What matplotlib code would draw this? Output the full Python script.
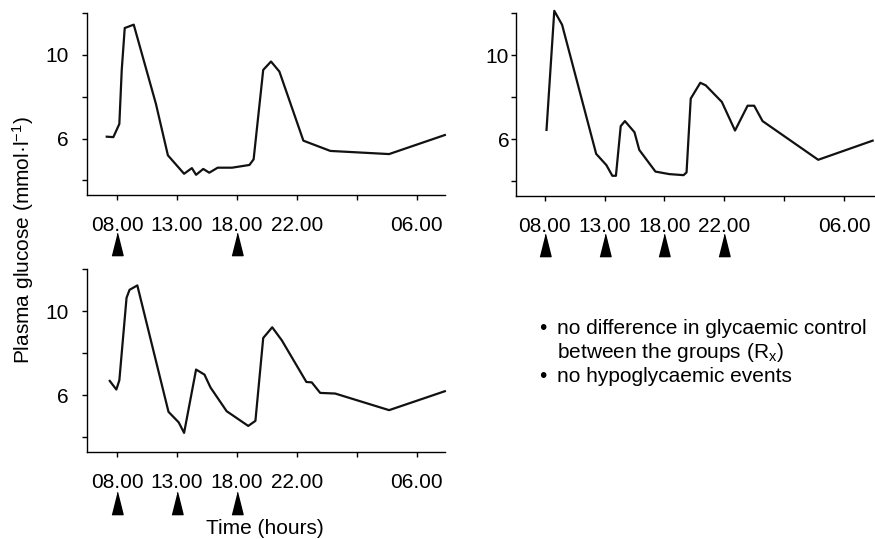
import matplotlib
matplotlib.use('Agg')
import matplotlib.pyplot as plt
import matplotlib.transforms as mtransforms

plt.rcParams['font.family'] = ['Liberation Sans', 'DejaVu Sans']
plt.rcParams['mathtext.fontset'] = 'custom'
plt.rcParams['mathtext.rm'] = 'Liberation Sans'
plt.rcParams['mathtext.it'] = 'Liberation Sans:italic'
plt.rcParams['font.size'] = 15

# x positions are in tick slots (0 = 08.00, 1 = 13.00, 2 = 18.00, 3 = 22.00, 5 = 06.00)
tick_labels = ['08.00', '13.00', '18.00', '22.00', '', '06.00']

# panel A (top left)
a_x = [-0.17, -0.06, 0.04, 0.08, 0.13, 0.28, 0.65, 0.85, 1.12, 1.25, 1.32, 1.44, 1.54,
       1.68, 1.92, 2.21, 2.28, 2.44, 2.57, 2.71, 3.11, 3.56, 4.54, 5.47]
a_y = [6.09, 6.07, 6.70, 9.28, 11.28, 11.44, 7.66, 5.20, 4.32, 4.59, 4.27, 4.55, 4.37,
       4.61, 4.61, 4.74, 5.01, 9.28, 9.68, 9.20, 5.90, 5.41, 5.26, 6.17]
a_meals = [0, 2]

# panel B (top right)
b_x = [0.03, 0.16, 0.29, 0.86, 1.03, 1.13, 1.19, 1.27, 1.34, 1.50, 1.58, 1.85, 2.08,
       2.32, 2.37, 2.44, 2.60, 2.69, 2.96, 3.18, 3.39, 3.50, 3.64, 4.57, 5.48]
b_y = [6.44, 12.10, 11.44, 5.30, 4.77, 4.26, 4.26, 6.62, 6.86, 6.33, 5.49, 4.46, 4.34,
       4.29, 4.42, 7.93, 8.68, 8.56, 7.77, 6.41, 7.59, 7.59, 6.86, 5.02, 5.93]
b_meals = [0, 1, 2, 3]

# panel C (bottom left)
c_x = [-0.12, -0.01, 0.04, 0.16, 0.21, 0.34, 0.86, 1.03, 1.12, 1.32, 1.46, 1.56, 1.83,
       2.19, 2.31, 2.44, 2.59, 2.75, 3.16, 3.25, 3.39, 3.64, 4.54, 5.47]
c_y = [6.68, 6.27, 6.71, 10.63, 11.01, 11.22, 5.21, 4.71, 4.21, 7.22, 6.98, 6.37, 5.24,
       4.54, 4.78, 8.72, 9.23, 8.61, 6.63, 6.61, 6.11, 6.08, 5.29, 6.19]
c_meals = [0, 1, 2]

notes = ['no difference in glycaemic control',
         'between the groups (R$_{\\mathrm{x}}$)',
         'no hypoglycaemic events']
bullets = [True, False, True]

fig = plt.figure(figsize=(8.75, 5.39), dpi=100)

# narrow black triangle marking a meal
tri = [(-0.25, -0.5), (0.25, -0.5), (0, 0.5)]


def panel(rect, xs, ys, meals, xlim, ypad, tri_y):
    ax = fig.add_axes(rect)
    ax.plot(xs, ys, color='#111111', lw=1.6, clip_on=False)
    ax.set_xlim(*xlim)
    ax.set_ylim(3.3, 12)
    ax.set_xticks(range(6))
    ax.set_xticklabels(tick_labels)
    ax.set_yticks([4, 6, 8, 10, 12])
    ax.set_yticklabels(['', '6', '', '10', ''])
    for s in ['top', 'right']:
        ax.spines[s].set_visible(False)
    for s in ['left', 'bottom']:
        ax.spines[s].set_linewidth(1.0)
    ax.tick_params(axis='x', length=3.6, width=1, pad=11.5, labelsize=15)
    ax.tick_params(axis='y', length=3.4, width=1, pad=ypad, labelsize=15)
    tr = mtransforms.blended_transform_factory(ax.transData, ax.transAxes)
    ax.plot(meals, [tri_y] * len(meals), ls='none', marker=tri, ms=16,
            color='black', transform=tr, clip_on=False)
    return ax


ax1 = panel([0.0994, 0.638, 0.409, 0.338], a_x, a_y, a_meals, (-0.5, 5.47), 9.5, -0.27)
ax2 = panel([0.5897, 0.6364, 0.409, 0.3396], b_x, b_y, b_meals, (-0.48, 5.5), 1.5, -0.27)
ax3 = panel([0.0994, 0.1614, 0.409, 0.3395], c_x, c_y, c_meals, (-0.5, 5.47), 9.5, -0.28)

fig.text(23 / 875, 1 - 240 / 539, 'Plasma glucose (mmol\u00b7l$^{-1}$)', rotation=90,
         ha='center', va='center', fontsize=15)
fig.text(265 / 875, 1 - 528 / 539, 'Time (hours)', ha='center', va='center', fontsize=15)

for i, (line, b) in enumerate(zip(notes, bullets)):
    y = 1 - (329 + 24 * i) / 539
    if b:
        fig.text(539 / 875, y, '\u2022', ha='left', va='center', fontsize=15)
    fig.text(557 / 875, y, line, ha='left', va='center', fontsize=15)

fig.savefig('out.png', dpi=100)
